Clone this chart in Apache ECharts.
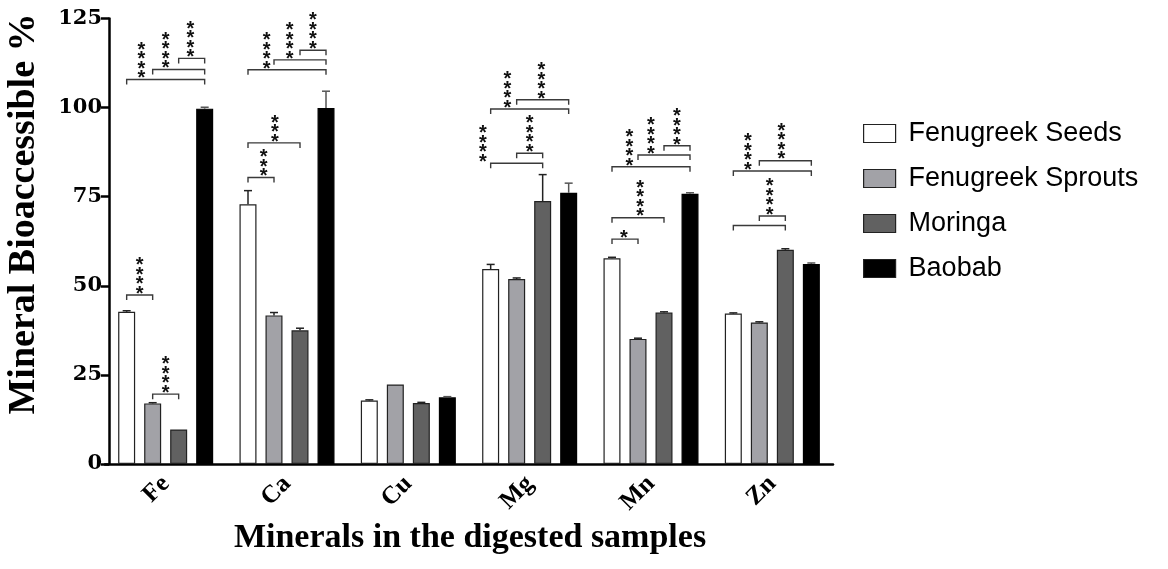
<!DOCTYPE html>
<html>
<head>
<meta charset="utf-8">
<script src="https://cdn.jsdelivr.net/npm/echarts@6/dist/echarts.min.js"></script>
<style>
html,body{margin:0;padding:0;background:#fff;}
#chart{width:1168px;height:569px;}
</style>
</head>
<body>
<div id="chart"></div>
<script>
// ---- data ----
const categories = ['Fe', 'Ca', 'Cu', 'Mg', 'Mn', 'Zn'];
const seriesNames = ['Fenugreek Seeds', 'Fenugreek Sprouts', 'Moringa', 'Baobab'];
const seeds   = [42.7, 72.9, 17.8, 54.7, 57.7, 42.2];
const sprouts = [17.0, 41.7, 22.3, 51.9, 35.1, 39.7];
const moringa = [9.7, 37.5, 17.1, 73.8, 42.5, 60.1];
const baobab  = [99.7, 99.9, 18.7, 76.1, 75.8, 56.1];
const seedsErr   = [0.3, 3.8, 0.2, 1.3, 0.3, 0.2];
const sproutsErr = [0.2, 0.8, 0.0, 0.3, 0.2, 0.2];
const moringaErr = [0.0, 0.6, 0.2, 7.4, 0.2, 0.3];
const baobabErr  = [0.4, 4.7, 0.2, 2.7, 0.3, 0.3];
const yTicks = [0, 25, 50, 75, 100, 125];
const xTitle = 'Minerals in the digested samples';
const yTitle = 'Mineral Bioaccessible %';
// significance brackets: [categoryIndex, fromSeries, toSeries, level, label, labelSeriesPos]
const brackets = [
  [0, 0, 1, 47.4, '****', 0.5],
  [0, 1, 2, 19.6, '****', 1.5],
  [0, 0, 3, 107.9, '****', 0.57],
  [0, 1, 3, 110.7, '****', 1.5],
  [0, 2, 3, 113.8, '****', 2.45],
  [1, 0, 1, 80.4, '***', 0.6],
  [1, 0, 2, 90.1, '***', 1.03],
  [1, 0, 3, 110.6, '****', 0.72],
  [1, 1, 3, 113.4, '****', 1.6],
  [1, 2, 3, 116.1, '****', 2.5],
  [3, 0, 2, 84.4, '****', -0.3],
  [3, 1, 2, 87.2, '****', 1.5],
  [3, 0, 3, 99.6, '****', 0.64],
  [3, 1, 3, 102.2, '****', 1.95],
  [4, 0, 1, 63.1, '*', 0.46],
  [4, 0, 2, 69.1, '****', 1.08],
  [4, 0, 3, 83.4, '****', 0.67],
  [4, 1, 3, 86.7, '****', 1.5],
  [4, 2, 3, 89.3, '****', 2.5],
  [5, 0, 2, 66.9, '', 1.0],
  [5, 1, 2, 69.6, '****', 1.4],
  [5, 0, 3, 82.2, '****', 0.56],
  [5, 1, 3, 85.1, '****', 1.85]
];

// ---- styling ----
const values = [seeds, sprouts, moringa, baobab];
const errs = [seedsErr, sproutsErr, moringaErr, baobabErr];
const fills = ['#ffffff', '#a2a2a7', '#616161', '#000000'];
const borders = ['#222', '#222', '#222', '#000'];
const BAR_W = 17, PITCH = 26;

const chart = echarts.init(document.getElementById('chart'));

const barSeries = seriesNames.map((n, i) => ({
  name: n,
  type: 'bar',
  data: values[i],
  barWidth: BAR_W,
  barGap: '53%',
  itemStyle: { color: fills[i], borderColor: borders[i], borderWidth: 1.2 },
  emphasis: { disabled: true },
  z: 2
}));

const errData = [];
errs.forEach((arr, s) => arr.forEach((e, c) => { if (e > 0) errData.push([c, values[s][c], s, e]); }));

const errSeries = {
  type: 'custom',
  data: errData,
  encode: { x: 0, y: 1 },
  z: 3,
  silent: true,
  renderItem: function (params, api) {
    const c = api.value(0), v = api.value(1), s = api.value(2), e = api.value(3);
    const p0 = api.coord([c, v]);
    const p1 = api.coord([c, v + e]);
    const x = p0[0] + (s - 1.5) * PITCH;
    const col = s === 3 ? '#555' : '#222';
    return {
      type: 'group',
      children: [
        { type: 'line', shape: { x1: x, y1: p0[1], x2: x, y2: p1[1] }, style: { stroke: col, lineWidth: 1.5 } },
        { type: 'line', shape: { x1: x - 4, y1: p1[1], x2: x + 4, y2: p1[1] }, style: { stroke: col, lineWidth: 1.5 } }
      ]
    };
  }
};

const brSeries = {
  type: 'custom',
  data: brackets.map((b, i) => [b[0], b[3], b[1], b[2], b[5], i]),
  encode: { x: 0, y: 1 },
  z: 4,
  silent: true,
  renderItem: function (params, api) {
    const c = api.value(0), lvl = api.value(1), f = api.value(2), t = api.value(3), pos = api.value(4), idx = api.value(5);
    const p = api.coord([c, lvl]);
    const x0 = p[0] + (f - 1.5) * PITCH;
    const x1 = p[0] + (t - 1.5) * PITCH;
    const y = p[1];
    const lbl = brackets[idx][4];
    const children = [
      { type: 'polyline', shape: { points: [[x0, y + 5], [x0, y], [x1, y], [x1, y + 5]] },
        style: { stroke: '#3a3a3a', lineWidth: 1.4, fill: null } }
    ];
    if (lbl) {
      children.push({
        type: 'text',
        style: {
          x: p[0] + (pos - 1.5) * PITCH,
          y: y + 4,
          text: lbl.split('').join('\n'),
          font: 'bold 20px "Liberation Sans", Arial, sans-serif',
          lineHeight: 9.5,
          fill: '#111',
          align: 'center',
          verticalAlign: 'bottom'
        }
      });
    }
    return { type: 'group', children: children };
  }
};

const option = {
  backgroundColor: '#ffffff',
  animation: false,
  grid: { left: 105, top: 18.5, width: 728, height: 445.5, containLabel: false },
  legend: {
    orient: 'vertical',
    left: 858,
    top: 115,
    itemWidth: 32,
    itemHeight: 18,
    itemGap: 18,
    icon: 'rect',
    data: seriesNames,
    textStyle: { fontFamily: '"Liberation Sans", Arial, sans-serif', fontSize: 27, lineHeight: 27, color: '#000', padding: [0, 0, 0, 8] },
    itemStyle: { borderColor: '#222', borderWidth: 1.2 },
    selectedMode: false
  },
  xAxis: {
    type: 'category',
    data: categories,
    axisLine: { lineStyle: { color: '#000', width: 2.5 } },
    axisTick: { alignWithLabel: true, length: 7, lineStyle: { color: '#000', width: 2.5 } },
    axisLabel: { rotate: 45, margin: 16, fontFamily: '"Liberation Serif", "Times New Roman", serif', fontWeight: 'bold', fontSize: 25, color: '#000' },
    splitLine: { show: false }
  },
  yAxis: {
    type: 'value',
    min: yTicks[0],
    max: yTicks[yTicks.length - 1],
    interval: yTicks[1] - yTicks[0],
    offset: -4,
    axisLine: { show: true, lineStyle: { color: '#000', width: 2.5 } },
    axisTick: { show: true, length: 8, lineStyle: { color: '#000', width: 2.5 } },
    axisLabel: { margin: 7, fontFamily: '"DejaVu Serif", serif', fontWeight: 'bold', fontSize: 21, color: '#000' },
    splitLine: { show: false }
  },
  graphic: [
    {
      type: 'text',
      x: 24, y: 214,
      rotation: Math.PI / 2,
      style: {
        text: yTitle,
        font: 'bold 38px "Liberation Serif", "Times New Roman", serif',
        fill: '#000',
        align: 'center',
        verticalAlign: 'middle'
      }
    },
    {
      type: 'text',
      x: 470, y: 538,
      style: {
        text: xTitle,
        font: 'bold 34px "Liberation Serif", "Times New Roman", serif',
        fill: '#000',
        align: 'center',
        verticalAlign: 'middle'
      }
    }
  ],
  series: barSeries.concat([errSeries, brSeries])
};
chart.setOption(option);
</script>
</body>
</html>
